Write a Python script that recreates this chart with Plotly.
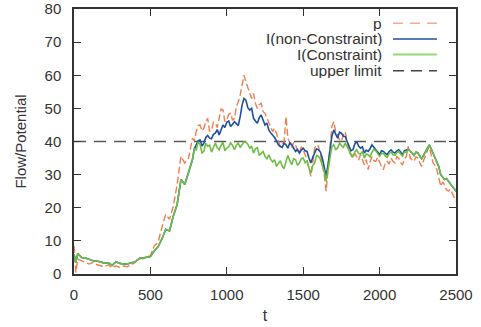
import plotly.graph_objects as go

# ---- data ----
t = [0, 12, 25, 50, 75, 100, 125, 150, 175, 200, 225, 250,
     275, 300, 325, 350, 375, 400, 425, 450, 475, 500,
     525, 550, 575, 600, 625, 650, 675, 700, 725, 750,
     775, 787.5, 800, 812.5, 825, 837.5, 850, 862.5,
     875, 887.5, 900, 912.5, 925, 937.5, 950, 962.5,
     975, 987.5, 1000, 1012.5, 1025, 1037.5, 1050, 1062.5,
     1075, 1087.5, 1100, 1112.5, 1125, 1137.5, 1150, 1162.5,
     1175, 1187.5, 1200, 1212.5, 1225, 1237.5, 1250, 1262.5,
     1275, 1287.5, 1300, 1312.5, 1325, 1337.5, 1350, 1362.5,
     1375, 1387.5, 1400, 1412.5, 1425, 1437.5, 1450, 1462.5,
     1475, 1487.5, 1500, 1512.5, 1525, 1537.5, 1550, 1562.5,
     1575, 1587.5, 1600, 1612.5, 1625, 1637.5, 1650, 1662.5,
     1675, 1687.5, 1700, 1712.5, 1725, 1737.5, 1750, 1762.5,
     1775, 1787.5, 1800, 1812.5, 1825, 1837.5, 1850, 1862.5,
     1875, 1887.5, 1900, 1912.5, 1925, 1937.5, 1950, 1962.5,
     1975, 1987.5, 2000, 2012.5, 2025, 2037.5, 2050, 2062.5,
     2075, 2087.5, 2100, 2112.5, 2125, 2137.5, 2150, 2162.5,
     2175, 2187.5, 2200, 2212.5, 2225, 2237.5, 2250, 2262.5,
     2275, 2287.5, 2300, 2312.5, 2325, 2337.5, 2350, 2362.5,
     2375, 2387.5, 2400, 2412.5, 2425, 2437.5, 2450, 2462.5,
     2475, 2487.5, 2500]

I_constraint = [6.0, 3.5, 6.2, 5.0, 4.8, 4.3, 4.0, 3.9, 3.6, 3.3, 3.4, 2.6,
                3.7, 3.2, 3.0, 3.0, 3.4, 3.6, 4.6, 4.8, 4.9, 5.3,
                7.0, 8.2, 10.5, 13.5, 13.0, 17.5, 21.0, 28.5, 27.0, 31.0,
                34.5, 37.8, 37.5, 39.8, 39.2, 36.5, 37.0, 39.5,
                38.6, 38.9, 36.8, 38.2, 39.5, 38.1, 37.5, 38.8,
                39.8, 37.2, 38.0, 38.4, 39.6, 38.8, 37.5, 38.9,
                39.5, 38.2, 39.0, 39.9, 39.8, 39.2, 38.0, 38.6,
                36.5, 37.8, 38.2, 35.8, 36.4, 37.0, 35.5, 34.8,
                36.0, 34.6, 33.8, 34.5, 32.5, 33.4, 34.2, 32.6,
                31.8, 34.0, 35.8, 34.2, 33.0, 34.8, 34.5, 32.8,
                33.5, 34.8, 35.0, 33.6, 34.2, 32.0, 30.5, 32.8,
                33.5, 35.8, 35.5, 34.6, 33.0, 31.0, 28.0, 31.5,
                35.0, 38.4, 39.0, 37.6, 38.0, 39.5, 38.8, 38.2,
                39.5, 38.4, 37.0, 36.2, 35.5, 36.8, 37.5, 36.4,
                36.2, 37.0, 35.0, 36.2, 36.0, 35.4, 36.8, 37.6,
                37.2, 36.2, 35.5, 36.4, 36.5, 35.6, 35.2, 36.4,
                36.8, 36.0, 35.8, 36.6, 37.0, 36.2, 35.6, 36.8,
                36.8, 37.6, 37.2, 36.4, 35.8, 36.8, 36.6, 35.6,
                34.8, 35.8, 37.0, 38.0, 39.0, 37.8, 36.5, 35.2,
                33.5, 32.4, 30.0, 29.4, 28.5, 28.8, 28.0, 27.0,
                26.5, 25.8, 25.0]

I_non_constraint = [6.0, 3.5, 6.2, 5.0, 4.8, 4.3, 4.0, 3.9, 3.6, 3.3, 3.4, 2.6,
                    3.7, 3.2, 3.0, 3.0, 3.4, 3.6, 4.6, 4.8, 4.9, 5.3,
                    7.0, 8.2, 10.5, 13.5, 13.0, 17.5, 21.0, 28.5, 27.0, 31.0,
                    34.5, 37.8, 39.0, 40.2, 40.5, 38.6, 39.5, 41.2,
                    41.8, 41.0, 40.8, 42.2, 42.5, 43.6, 42.0, 43.5,
                    45.0, 44.2, 45.8, 46.2, 44.5, 45.2, 46.0, 45.4,
                    44.8, 47.5, 51.0, 53.0, 52.5, 50.2, 49.5, 50.0,
                    47.0, 46.2, 45.5, 47.2, 48.0, 46.5, 45.0, 45.6,
                    43.5, 42.6, 42.0, 41.2, 40.2, 39.0, 38.5, 38.2,
                    39.5, 39.0, 38.0, 39.6, 39.0, 37.8, 37.0, 37.6,
                    36.5, 37.4, 38.0, 37.2, 37.0, 35.0, 33.5, 35.2,
                    36.5, 37.8, 37.5, 36.8, 35.0, 32.6, 29.5, 33.0,
                    37.0, 41.5, 43.5, 42.0, 41.0, 42.8, 42.5, 41.6,
                    41.5, 40.0, 38.5, 37.2, 37.5, 39.2, 40.0, 38.6,
                    38.0, 38.4, 36.5, 37.4, 37.0, 37.8, 39.0, 38.4,
                    37.5, 36.8, 36.0, 37.2, 37.0, 36.4, 36.0, 37.0,
                    37.5, 36.8, 36.5, 37.2, 37.5, 36.8, 36.0, 37.2,
                    37.5, 37.6, 37.2, 36.4, 35.8, 36.8, 36.6, 35.6,
                    34.8, 35.8, 37.0, 38.0, 39.0, 37.8, 36.5, 35.2,
                    33.5, 32.4, 30.0, 29.4, 28.5, 28.8, 28.0, 27.0,
                    26.5, 25.8, 25.0]

p = [8.5, 0.5, 4.5, 4.0, 3.5, 3.0, 3.5, 2.8, 2.5, 2.2, 2.8, 1.8,
     2.5, 2.0, 2.4, 2.2, 2.8, 3.5, 5.0, 4.6, 5.2, 5.5,
     8.5, 9.5, 14.0, 18.0, 16.5, 20.5, 27.0, 35.5, 33.5, 35.0,
     41.0, 40.2, 43.0, 44.8, 45.0, 43.2, 44.0, 46.0,
     47.0, 43.0, 43.5, 45.8, 45.5, 44.2, 47.0, 49.8,
     49.5, 46.0, 46.5, 48.2, 48.5, 46.4, 47.0, 50.5,
     52.0, 54.0, 57.0, 60.0, 58.0, 56.5, 55.0, 53.0,
     54.5, 51.5, 50.0, 51.2, 51.5, 49.0, 48.5, 47.2,
     46.0, 44.2, 43.0, 44.0, 42.5, 40.2, 38.5, 39.4,
     40.0, 47.5, 41.0, 39.6, 38.0, 39.8, 39.0, 37.2,
     36.5, 38.4, 37.5, 36.0, 34.5, 32.0, 29.5, 33.5,
     38.0, 39.0, 38.5, 36.2, 33.0, 30.0, 25.0, 31.0,
     38.0, 44.5, 46.0, 43.0, 42.0, 40.5, 40.0, 42.0,
     43.0, 39.5, 37.0, 35.8, 35.0, 36.4, 35.5, 34.4,
     36.0, 34.2, 33.0, 34.6, 31.5, 33.8, 35.5, 34.2,
     34.0, 35.2, 33.5, 32.4, 31.5, 33.6, 34.0, 33.2,
     35.0, 34.0, 33.5, 35.4, 35.0, 33.6, 33.0, 34.6,
     35.5, 38.5, 35.0, 34.6, 34.0, 35.4, 35.0, 33.6,
     32.5, 34.2, 36.0, 37.2, 38.5, 35.4, 33.5, 32.8,
     31.5, 29.0, 26.5, 27.8, 27.0, 25.4, 25.0, 25.6,
     24.5, 23.2, 22.0]

upper_limit = 40
limit_t = [0, 2500]

x_ticks = [0, 500, 1000, 1500, 2000, 2500]
y_ticks = [0, 10, 20, 30, 40, 50, 60, 70, 80]

series_names = ["p", "I(non-Constraint)", "I(Constraint)", "upper limit"]

# ---- styles ----
C_P = "rgb(240,125,80)"
C_B = "rgb(30,80,160)"
C_G = "rgb(110,190,70)"
C_L = "rgb(90,90,90)"
FONT = "Liberation Sans, Arial, sans-serif"
TXT = "#333333"

fig = go.Figure()
fig.add_trace(go.Scatter(x=limit_t, y=[upper_limit, upper_limit], mode="lines",
                         line=dict(color=C_L, width=1.5, dash="12px,8px"), name=series_names[3]))
fig.add_trace(go.Scatter(x=t, y=p, mode="lines",
                         line=dict(color=C_P, width=1.4, dash="7px,3px"), name=series_names[0]))
fig.add_trace(go.Scatter(x=t, y=I_non_constraint, mode="lines",
                         line=dict(color=C_B, width=1.6), name=series_names[1]))
fig.add_trace(go.Scatter(x=t, y=I_constraint, mode="lines",
                         line=dict(color=C_G, width=1.6), name=series_names[2]))

# manual legend (text left, sample right)
leg_y = [0.946, 0.887, 0.828, 0.767]
leg_style = [dict(color="rgb(248,170,140)", width=1.5, dash="10px,7px"),
             dict(color=C_B, width=1.5),
             dict(color="rgb(150,215,120)", width=2),
             dict(color="#444444", width=1.5, dash="11px,7px")]
for name, yy, st in zip(series_names, leg_y, leg_style):
    fig.add_annotation(x=0.809, y=yy, xref="paper", yref="paper", text=name, showarrow=False,
                       xanchor="right", yanchor="middle", height=15, borderpad=0,
                       font=dict(family=FONT, size=15.5, color=TXT))
    fig.add_shape(type="line", xref="paper", yref="paper", x0=0.835, x1=0.950, y0=yy, y1=yy, line=st)

axis_common = dict(showline=True, linecolor="#333333", linewidth=1.5, mirror="ticks",
                   ticks="inside", ticklen=7, tickwidth=1.2, tickcolor="#333333",
                   showgrid=False, zeroline=False, automargin=False,
                   tickfont=dict(family=FONT, size=15, color=TXT))

fig.update_layout(
    width=481, height=327,
    margin=dict(l=74, r=25, t=9, b=53),
    plot_bgcolor="white", paper_bgcolor="white",
    showlegend=False,
    xaxis=dict(range=[0, 2500], tickvals=x_ticks, ticklabelstandoff=6,
               title=dict(text="t", font=dict(family=FONT, size=16, color=TXT), standoff=8),
               **axis_common),
    yaxis=dict(range=[0, 80], tickvals=y_ticks, ticklabelstandoff=8,
               title=dict(text="Flow/Potential", font=dict(family=FONT, size=15, color=TXT), standoff=14),
               **axis_common),
)

fig.write_html("out.html")
